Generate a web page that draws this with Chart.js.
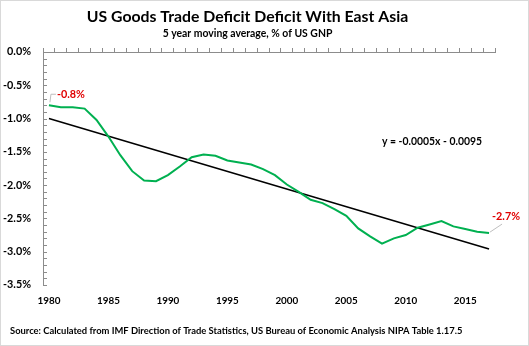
<!DOCTYPE html>
<html>
<head>
<meta charset="utf-8">
<script src="https://cdn.jsdelivr.net/npm/chart.js@4"></script>
<style>
    html, body { margin: 0; padding: 0; background: #fff; }
    #wrap { width: 529px; height: 346px; position: relative; }
</style>
</head>
<body>
<div id="wrap"><canvas id="deficitChart" width="529" height="346"></canvas></div>
<script>
// data
const years = [1980, 1981, 1982, 1983, 1984, 1985, 1986, 1987, 1988, 1989,
               1990, 1991, 1992, 1993, 1994, 1995, 1996, 1997, 1998, 1999,
               2000, 2001, 2002, 2003, 2004, 2005, 2006, 2007, 2008, 2009,
               2010, 2011, 2012, 2013, 2014, 2015, 2016, 2017];
const deficitPct = [-0.80, -0.83, -0.83, -0.85, -1.02, -1.27, -1.55, -1.79, -1.93, -1.94,
                    -1.85, -1.72, -1.58, -1.54, -1.56, -1.63, -1.66, -1.69, -1.76, -1.85,
                    -1.99, -2.10, -2.22, -2.27, -2.36, -2.46, -2.65, -2.77, -2.88, -2.80,
                    -2.75, -2.64, -2.59, -2.54, -2.62, -2.66, -2.70, -2.72];
const trendStart = -1.00;
const trendEnd = -2.96;
const yTicks = [0, -0.5, -1.0, -1.5, -2.0, -2.5, -3.0, -3.5];
const labelYears = [1980, 1985, 1990, 1995, 2000, 2005, 2010, 2015];

const TITLE = 'US Goods Trade Deficit Deficit With East Asia';
const SUBTITLE = '5 year moving average, % of US GNP';
const EQUATION = 'y = -0.0005x - 0.0095';
const SOURCE = 'Source: Calculated from IMF Direction of Trade Statistics, US Bureau of Economic Analysis NIPA Table 1.17.5';

const FONT = 'Lato, "Open Sans", sans-serif';
const AXIS_GREY = '#8c8c8c';

// pick a font size so the text is as wide as in the reference
const measureCtx = document.createElement('canvas').getContext('2d');
function fitSize(text, width) {
    measureCtx.font = 'bold 20px ' + FONT;
    return Math.round(20 * width / measureCtx.measureText(text).width * 10) / 10;
}
const titleSize = fitSize(TITLE, 321);
const subSize = fitSize(SUBTITLE, 170);
const eqSize = fitSize(EQUATION, 100);
const sourceSize = fitSize(SOURCE, 453);
const yLabelSize = fitSize('-0.5%', 28);
const xLabelSize = fitSize('1980', 23);
const endLabelSize = fitSize('-2.7%', 28);

// trendline only has its two end values, gap spanned
const trendData = years.map((y, i) => i === 0 ? trendStart : (i === years.length - 1 ? trendEnd : null));

const pageDecor = {
    id: 'pageDecor',
    beforeDraw(chart) {
        const ctx = chart.ctx;
        ctx.save();
        ctx.fillStyle = '#fff';
        ctx.fillRect(0, 0, chart.width, chart.height);
        ctx.restore();
    },
    afterDraw(chart) {
        const ctx = chart.ctx;
        const yScale = chart.scales.y;
        const left = chart.chartArea.left;
        ctx.save();

        // minor ticks on the inside of the y axis
        ctx.strokeStyle = AXIS_GREY;
        ctx.lineWidth = 1;
        for (let i = 0; i <= 35; i++) {
            const py = Math.round(yScale.getPixelForValue(-i / 10)) + 0.5;
            ctx.beginPath();
            ctx.moveTo(left, py);
            ctx.lineTo(left + 4, py);
            ctx.stroke();
        }

        ctx.fillStyle = '#000';
        ctx.font = 'bold ' + eqSize + 'px ' + FONT;
        ctx.textAlign = 'center';
        ctx.textBaseline = 'middle';
        ctx.fillText(EQUATION, 432, 142);

        ctx.font = 'bold ' + sourceSize + 'px ' + FONT;
        ctx.textAlign = 'left';
        ctx.fillText(SOURCE, 10, 331);

        // outer frame
        ctx.strokeStyle = '#d9d9d9';
        ctx.strokeRect(0.5, 0.5, chart.width - 1, chart.height - 1);
        ctx.restore();
    }
};

const endLabels = {
    id: 'endLabels',
    afterDatasetsDraw(chart) {
        const ctx = chart.ctx;
        const pts = chart.getDatasetMeta(0).data;
        const first = pts[0];
        const last = pts[pts.length - 1];
        const fmt = v => v.toFixed(1) + '%';

        ctx.save();
        ctx.strokeStyle = '#bfbfbf';
        ctx.lineWidth = 1;
        ctx.beginPath();
        ctx.moveTo(first.x + 1, first.y - 3);
        ctx.lineTo(first.x + 2, first.y - 11);
        ctx.lineTo(first.x + 7, first.y - 11);
        ctx.moveTo(last.x + 1, last.y - 1);
        ctx.lineTo(last.x + 13, last.y - 9);
        ctx.stroke();

        ctx.fillStyle = '#e00000';
        ctx.font = 'bold ' + endLabelSize + 'px ' + FONT;
        ctx.textBaseline = 'middle';
        ctx.textAlign = 'left';
        ctx.fillText(fmt(deficitPct[0]), first.x + 8, first.y - 11);
        ctx.textAlign = 'center';
        ctx.fillText(fmt(deficitPct[deficitPct.length - 1]), last.x + 17, last.y - 17);
        ctx.restore();
    }
};

// title centre at y=17, subtitle centre at y=34, plot top at y=52
const titleTop = 17 - 0.6 * titleSize;
const subTop = 34 - (titleTop + 1.2 * titleSize) - 0.6 * subSize;
const subBottom = 52 - 6 - (34 + 0.6 * subSize);

new Chart(document.getElementById('deficitChart').getContext('2d'), {
    type: 'line',
    data: {
        labels: years,
        datasets: [{
            label: 'Deficit with East Asia',
            data: deficitPct,
            borderColor: '#00b050',
            borderWidth: 2,
            pointRadius: 0,
            tension: 0,
            xAxisID: 'x'
        }, {
            label: 'Trend',
            data: trendData,
            borderColor: '#000',
            borderWidth: 1.5,
            pointRadius: 0,
            spanGaps: true,
            xAxisID: 'x'
        }]
    },
    options: {
        responsive: false,
        animation: false,
        layout: { padding: { left: 0, right: 34, top: 0, bottom: 0 } },
        plugins: {
            legend: { display: false },
            tooltip: { enabled: false },
            title: {
                display: true,
                text: TITLE,
                color: '#000',
                font: { family: FONT, size: titleSize, weight: 'bold', lineHeight: 1.2 },
                padding: { top: titleTop, bottom: 0 }
            },
            subtitle: {
                display: true,
                text: SUBTITLE,
                color: '#000',
                font: { family: FONT, size: subSize, weight: 'bold', lineHeight: 1.2 },
                padding: { top: subTop, bottom: subBottom }
            }
        },
        scales: {
            x: {
                type: 'category',
                position: 'top',
                offset: true,
                grid: { display: true, drawOnChartArea: false, drawTicks: true, tickLength: 4, color: AXIS_GREY, offset: true },
                border: { display: true, color: AXIS_GREY },
                ticks: { display: false, autoSkip: false },
                afterFit(scale) { scale.height = 6; }
            },
            x2: {
                type: 'category',
                position: 'bottom',
                labels: years,
                offset: true,
                grid: { display: false, drawTicks: false },
                border: { display: false },
                ticks: {
                    autoSkip: false,
                    maxRotation: 0,
                    padding: 10,
                    color: '#000',
                    font: { family: FONT, size: xLabelSize, weight: 'bold' },
                    callback(value) {
                        const yr = this.getLabelForValue(value);
                        return labelYears.includes(yr) ? String(yr) : '';
                    }
                },
                afterFit(scale) { scale.height = 61; }
            },
            y: {
                min: -3.5,
                max: 0,
                grid: { display: false, drawTicks: false },
                border: { display: true, color: AXIS_GREY },
                afterBuildTicks(scale) { scale.ticks = yTicks.map(v => ({ value: v })); },
                ticks: {
                    padding: 12,
                    color: '#000',
                    font: { family: FONT, size: yLabelSize, weight: 'bold' },
                    callback: v => v.toFixed(1) + '%'
                },
                afterFit(scale) { scale.width = 43; }
            }
        }
    },
    plugins: [pageDecor, endLabels]
});
</script>
</body>
</html>
